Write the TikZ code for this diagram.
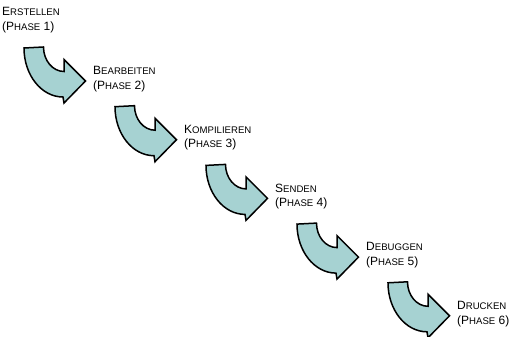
\documentclass[tikz,border=0pt]{standalone}
\usepackage{fontspec}
\setmainfont{Liberation Sans}
\usepackage{tikz}
\usetikzlibrary{positioning}
\definecolor{arrowfill}{RGB}{166,210,210}
\newcommand{\phcap}[2]{#1{\fontsize{9.6}{14.7}\selectfont #2}}
\tikzset{
    phase/.style={align=left, inner sep=0pt, anchor=north west, font=\fontsize{12}{14.7}\selectfont},
    turnshape/.style={draw=black, fill=arrowfill, line width=1.5pt},
    turn/.pic={
        \path [turnshape] (22,40.6) -- (41.5,39.6) .. controls (41.5,53.1) and (50.7,64.1) .. (62,64.1)
            -- (62,52.1) -- (83.5,73.6) -- (62,95.6) -- (61,89.6)
            .. controls (39.5,89.6) and (22,67.7) .. cycle;
    }
}
\begin{document}
\begin{tikzpicture}[x=1pt, y=-1pt]
    \useasboundingbox (0,0) rectangle (531,337);
    \node [phase] (erstellen) at (2,7.4) {\phcap{E}{RSTELLEN}\\(\phcap{P}{HASE} 1)};
    \node [phase, below right=58.7pt and 91pt of erstellen.north west] (bearbeiten) {\phcap{B}{EARBEITEN}\\(\phcap{P}{HASE} 2)};
    \node [phase, below right=58.7pt and 91pt of bearbeiten.north west] (kompilieren) {\phcap{K}{OMPILIEREN}\\(\phcap{P}{HASE} 3)};
    \node [phase, below right=58.7pt and 91pt of kompilieren.north west] (senden) {\phcap{S}{ENDEN}\\(\phcap{P}{HASE} 4)};
    \node [phase, below right=58.7pt and 91pt of senden.north west] (debuggen) {\phcap{D}{EBUGGEN}\\(\phcap{P}{HASE} 5)};
    \node [phase, below right=58.7pt and 91pt of debuggen.north west] (drucken) {\phcap{D}{RUCKEN}\\(\phcap{P}{HASE} 6)};

    \pic at (erstellen.north west) {turn};
    \pic at (bearbeiten.north west) {turn};
    \pic at (kompilieren.north west) {turn};
    \pic at (senden.north west) {turn};
    \pic at (debuggen.north west) {turn};
\end{tikzpicture}
\end{document}
